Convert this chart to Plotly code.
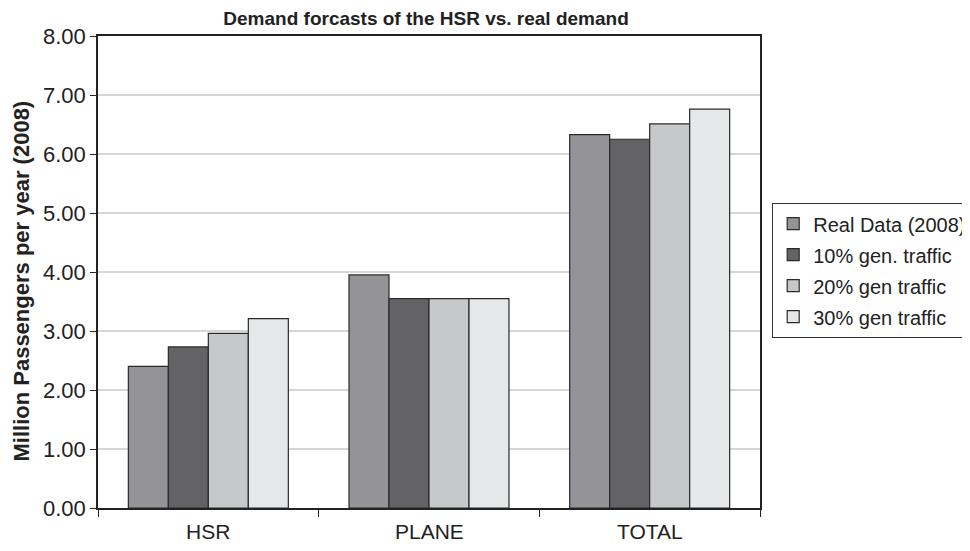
import plotly.graph_objects as go

categories = ["HSR", "PLANE", "TOTAL"]
series_names = ["Real Data (2008)", "10% gen. traffic", "20% gen traffic", "30% gen traffic"]
real_2008 = [2.40, 3.95, 6.33]
gen10 = [2.73, 3.55, 6.25]
gen20 = [2.96, 3.55, 6.51]
gen30 = [3.21, 3.55, 6.76]
series_values = [real_2008, gen10, gen20, gen30]
colors = ["#949498", "#636365", "#c7c8ca", "#e6e7e9"]
y_ticks = [0, 1, 2, 3, 4, 5, 6, 7, 8]
y_tick_labels = ["%.2f" % v for v in y_ticks]

fig = go.Figure()
for i, (name, vals) in enumerate(zip(series_names, series_values)):
    fig.add_trace(go.Bar(
        x=categories, y=vals, name=name,
        marker=dict(color=colors[i], line=dict(color="#2a2a2a", width=1.2)),
        legendgroup="g%d" % i,
    ))

fig.update_layout(
    width=970, height=551,
    barmode="group", bargap=0.275, bargroupgap=0,
    paper_bgcolor="white", plot_bgcolor="white",
    margin=dict(l=90, r=218, t=28, b=51, autoexpand=False),
    font=dict(family="Liberation Sans, Arial, sans-serif", color="#222222", size=22),
    title=dict(text="<b>Demand forcasts of the HSR vs. real demand</b>",
               x=0.431, xanchor="center", y=1 - 10 / 551, yanchor="middle",
               font=dict(size=19, color="#222222")),
    legend=dict(x=(764 - 90) / 662, y=(500 - 195) / 472, xanchor="left", yanchor="top",
                bordercolor="#333333", borderwidth=1.2, bgcolor="white",
                font=dict(size=20, color="#222222"),
                traceorder="grouped", tracegroupgap=2, itemwidth=30),
    showlegend=True,
)
fig.update_xaxes(
    showline=True, linecolor="#222222", linewidth=1.5, mirror=True,
    ticks="outside", ticklen=7, tickcolor="#222222",
    tickmode="array", tickvals=[-0.5, 0.5, 1.5, 2.5], ticktext=["", "", "", ""],
    range=[-0.5, 2.5], showgrid=False,
)
fig.update_yaxes(
    range=[0, 8], tickvals=y_ticks, ticktext=y_tick_labels,
    showline=True, linecolor="#222222", linewidth=1.5, mirror=True,
    ticks="outside", ticklen=6, tickcolor="#222222",
    showgrid=True, gridcolor="#d6d6d6", gridwidth=1.5,
    title=dict(text="<b>Million Passengers per year (2008)</b>&nbsp;&nbsp;&nbsp;", font=dict(size=22), standoff=7),
    zeroline=False, tickfont=dict(size=22),
)
for c in categories:
    fig.add_annotation(x=c, y=0, xref="x", yref="paper", yshift=-37, showarrow=False,
                       text=c, font=dict(family="Liberation Sans, Arial, sans-serif", size=21, color="#222222"))

fig.write_html("out.html")
